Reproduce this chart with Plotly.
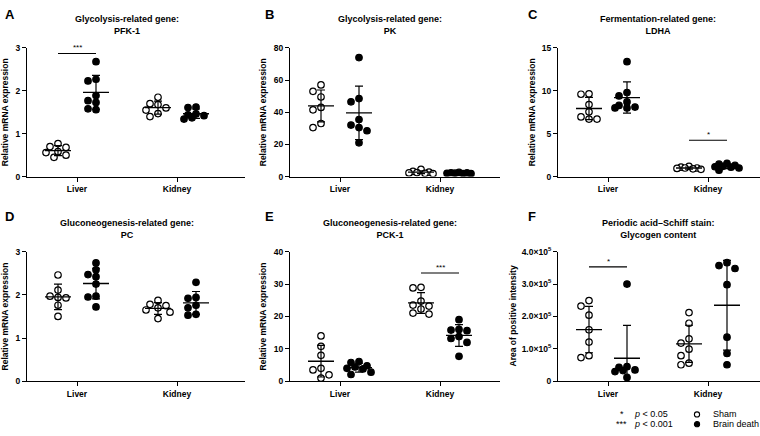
import numpy as np
import plotly.graph_objects as go

categories = ['Liver', 'Kidney']

# values, groups: Liver Sham, Liver BD, Kidney Sham, Kidney BD
pfk1_liver_sham = [0.77, 0.70, 0.68, 0.58, 0.56, 0.50, 0.45]
pfk1_liver_bd = [2.68, 2.27, 2.23, 1.89, 1.77, 1.73, 1.58, 1.56]
pfk1_kidney_sham = [1.85, 1.70, 1.68, 1.60, 1.55, 1.47, 1.40]
pfk1_kidney_bd = [1.62, 1.61, 1.46, 1.44, 1.42, 1.37, 1.34]

pk_liver_sham = [57.0, 53.0, 49.5, 43.0, 41.5, 33.0, 30.5]
pk_liver_bd = [74.0, 48.5, 46.5, 35.5, 32.0, 30.5, 28.5, 21.0]
pk_kidney_sham = [4.5, 3.2, 2.8, 2.5, 2.3, 2.0, 1.8]
pk_kidney_bd = [2.6, 2.4, 2.3, 2.1, 2.0, 1.9, 1.8]

ldha_liver_sham = [9.65, 9.6, 8.4, 7.55, 6.95, 6.7, 6.7]
ldha_liver_bd = [13.4, 9.8, 9.4, 8.7, 8.3, 8.1, 8.0, 8.0]
ldha_kidney_sham = [1.2, 1.1, 1.0, 1.0, 0.95, 0.9, 0.85]
ldha_kidney_bd = [1.55, 1.45, 1.3, 1.2, 1.15, 1.1, 1.0, 0.75]

pc_liver_sham = [2.46, 2.11, 1.97, 1.94, 1.93, 1.76, 1.50]
pc_liver_bd = [2.74, 2.58, 2.47, 2.42, 2.25, 1.97, 1.95, 1.72]
pc_kidney_sham = [1.87, 1.78, 1.75, 1.70, 1.65, 1.60, 1.45]
pc_kidney_bd = [2.29, 1.94, 1.92, 1.76, 1.70, 1.55, 1.53]

pck1_liver_sham = [14.0, 10.8, 8.0, 4.0, 3.5, 2.0, 1.0]
pck1_liver_bd = [6.1, 5.8, 4.8, 4.4, 4.0, 3.8, 2.8, 2.1]
pck1_kidney_sham = [29.0, 28.8, 24.75, 23.5, 23.2, 22.3, 21.05, 20.75]
pck1_kidney_bd = [19.0, 16.0, 15.8, 15.6, 13.8, 13.2, 12.0, 7.7]

pas_liver_sham = [2.49e5, 2.32e5, 2.04e5, 1.59e5, 1.21e5, 0.79e5, 0.73e5]
pas_liver_bd = [3.0e5, 0.45e5, 0.43e5, 0.35e5, 0.33e5, 0.30e5, 0.12e5]
pas_kidney_sham = [2.12e5, 1.79e5, 1.31e5, 1.18e5, 0.99e5, 0.79e5, 0.56e5, 0.51e5]
pas_kidney_bd = [3.66e5, 3.57e5, 3.48e5, 2.98e5, 1.36e5, 0.86e5, 0.51e5]

# significance brackets: (category index, height, label)
pfk1_sig = [(0, 2.87, '***')]
ldha_sig = [(1, 4.23, '*')]
pck1_sig = [(1, 33.4, '***')]
pas_sig = [(0, 3.53e5, '*')]

pas_ticks = [0, 1e5, 2e5, 3e5, 4e5]
pas_ticktext = ['0', '1.0×10<sup>5</sup>', '2.0×10<sup>5</sup>', '3.0×10<sup>5</sup>', '4.0×10<sup>5</sup>']

panels = [
    dict(letter='A', t1='Glycolysis-related gene:', t2='PFK-1', ytitle='Relative mRNA expression',
         ymax=3, dtick=1, groups=[pfk1_liver_sham, pfk1_liver_bd, pfk1_kidney_sham, pfk1_kidney_bd],
         sig=pfk1_sig),
    dict(letter='B', t1='Glycolysis-related gene:', t2='PK', ytitle='Relative mRNA expression',
         ymax=80, dtick=20, groups=[pk_liver_sham, pk_liver_bd, pk_kidney_sham, pk_kidney_bd], sig=[]),
    dict(letter='C', t1='Fermentation-related gene:', t2='LDHA', ytitle='Relative mRNA expression',
         ymax=15, dtick=5, groups=[ldha_liver_sham, ldha_liver_bd, ldha_kidney_sham, ldha_kidney_bd],
         sig=ldha_sig),
    dict(letter='D', t1='Gluconeogenesis-related gene:', t2='PC', ytitle='Relative mRNA expression',
         ymax=3, dtick=1, groups=[pc_liver_sham, pc_liver_bd, pc_kidney_sham, pc_kidney_bd], sig=[]),
    dict(letter='E', t1='Gluconeogenesis-related gene:', t2='PCK-1', ytitle='Relative mRNA expression',
         ymax=40, dtick=10, groups=[pck1_liver_sham, pck1_liver_bd, pck1_kidney_sham, pck1_kidney_bd],
         sig=pck1_sig),
    dict(letter='F', t1='Periodic acid–Schiff stain:', t2='Glycogen content', ytitle='Area of positive intensity',
         ymax=4e5, dtick=1e5, groups=[pas_liver_sham, pas_liver_bd, pas_kidney_sham, pas_kidney_bd],
         sig=pas_sig, ticks=pas_ticks, ticktext=pas_ticktext),
]

W, H = 760, 436
FONT = 'Liberation Sans, Arial, sans-serif'
col_px = [(27, 245), (290, 500), (558, 760)]
row_px = [(43, 175), (252, 385)]
letter_x = [3, 263, 526]
letter_y = [9, 216]
ytitle_gap = [[22, 27, 26], [22, 27, 45]]
PX_PER_CAT = 100.0
GROUP_OFF = 0.19


def swarm(vals, ppu, step=8.0, diam=7.0):
    # simple beeswarm: place from the top down, nearest free column wins,
    # crowded rows overlap instead of spreading out wider
    order = sorted(range(len(vals)), key=lambda i: -vals[i])
    cands = [0, -1, 1, -0.5, 0.5, -1.5, 1.5]
    placed, offs = [], [0.0] * len(vals)
    for i in order:
        y = vals[i] * ppu
        best, best_d = 0, -1
        for k in cands:
            x = k * step
            d = min([np.hypot(x - px, y - py) for px, py in placed] or [99])
            if d >= diam:
                best = k
                break
            if d > best_d:
                best, best_d = k, d
        placed.append((best * step, y))
        offs[i] = best * step / PX_PER_CAT
    return offs


fig = go.Figure()
annotations, shapes = [], []

for n, p in enumerate(panels):
    r, c = divmod(n, 3)
    ax = '' if n == 0 else str(n + 1)
    xa, ya = 'x' + ax, 'y' + ax
    x0, x1 = col_px[c]
    top, bot = row_px[r]
    ppu = (bot - top) / p['ymax']

    for g, vals in enumerate(p['groups']):
        cat = g // 2
        sham = g % 2 == 0
        cx = cat + (-GROUP_OFF if sham else GROUP_OFF)
        offs = swarm(vals, ppu)
        fig.add_trace(go.Scatter(
            x=[cx + o for o in offs], y=vals, mode='markers', xaxis=xa, yaxis=ya,
            marker=dict(size=6.5, color='white' if sham else 'black',
                        line=dict(color='black', width=1.2)),
            showlegend=False, hoverinfo='y'))
        m, sd = float(np.mean(vals)), float(np.std(vals, ddof=1))
        fig.add_trace(go.Scatter(
            x=[cx - 0.13, cx + 0.13], y=[m, m], mode='lines', xaxis=xa, yaxis=ya,
            line=dict(color='black', width=1.3), showlegend=False, hoverinfo='skip'))
        fig.add_trace(go.Scatter(
            x=[cx], y=[m], mode='markers', xaxis=xa, yaxis=ya, marker=dict(size=0.1, color='black'),
            error_y=dict(type='data', array=[sd], width=4, thickness=1.2, color='black'),
            showlegend=False, hoverinfo='skip'))

    for cat, h, label in p['sig']:
        fig.add_trace(go.Scatter(
            x=[cat - GROUP_OFF, cat + GROUP_OFF], y=[h, h], mode='lines', xaxis=xa, yaxis=ya,
            line=dict(color='black', width=1.1), showlegend=False, hoverinfo='skip'))
        annotations.append(dict(x=cat, y=h, xref=xa, yref=ya, text=label, showarrow=False,
                                yanchor='bottom', yshift=-1, font=dict(family=FONT, size=8, color='black')))

    xdom = [x0 / W, x1 / W]
    ydom = [1 - bot / H, 1 - top / H]
    tickfont = dict(family=FONT, size=8.5, color='black', weight='bold')
    fig.layout['xaxis' + ax] = dict(
        domain=xdom, range=[-0.5, -0.5 + (x1 - x0) / PX_PER_CAT], anchor=ya,
        tickvals=[0, 1], ticktext=categories, ticks='outside', ticklen=4, tickwidth=1.2,
        tickcolor='black', showline=True, linecolor='black', linewidth=1.2,
        showgrid=False, zeroline=False, tickfont=tickfont, fixedrange=True)
    yax = dict(
        domain=ydom, range=[0, p['ymax']], anchor=xa, ticks='outside', ticklen=4, tickwidth=1.2,
        tickcolor='black', showline=True, linecolor='black', linewidth=1.2,
        showgrid=False, zeroline=False, tickfont=tickfont, fixedrange=True)
    if 'ticks' in p:
        yax.update(tickvals=p['ticks'], ticktext=p['ticktext'])
    else:
        yax.update(tick0=0, dtick=p['dtick'])
    fig.layout['yaxis' + ax] = yax

    annotations.append(dict(x=0.5, y=1, xref=xa, yref=ya + ' domain',
                            text=p['t1'] + '<br>' + p['t2'], showarrow=False,
                            yanchor='middle', yshift=23,
                            font=dict(family=FONT, size=9, color='black', weight='bold')))
    annotations.append(dict(x=0, y=0.5, xref=xa + ' domain', yref=ya + ' domain', text=p['ytitle'],
                            showarrow=False, textangle=-90, xanchor='center', yanchor='middle',
                            xshift=-ytitle_gap[r][c],
                            font=dict(family=FONT, size=8.5, color='black', weight='bold')))
    annotations.append(dict(x=letter_x[c] / W, y=1 - letter_y[r] / H, xref='paper', yref='paper',
                            text=p['letter'], showarrow=False, xanchor='left', yanchor='middle',
                            font=dict(family=FONT, size=13, color='black', weight='bold')))

# legend drawn as annotations + circle shapes
lfont = dict(family=FONT, size=9, color='black')
for txt, xp, yp, anc in [('*', 622, 419, 'center'), ('<i>p</i> &lt; 0.05', 632, 419, 'left'),
                         ('***', 621, 429, 'center'), ('<i>p</i> &lt; 0.001', 632, 429, 'left'),
                         ('Sham', 711, 419, 'left'), ('Brain death', 711, 429, 'left')]:
    annotations.append(dict(x=xp / W, y=1 - yp / H, xref='paper', yref='paper', text=txt, showarrow=False,
                            xanchor=anc, yanchor='middle', font=lfont))
for yp, fill in [(419, 'white'), (429, 'black')]:
    shapes.append(dict(type='circle', xref='paper', yref='paper', xsizemode='pixel', ysizemode='pixel',
                       xanchor=697 / W, yanchor=1 - yp / H, x0=-2.6, x1=2.6, y0=-2.6, y1=2.6,
                       fillcolor=fill, line=dict(color='black', width=1.1)))

fig.update_layout(
    width=W, height=H, margin=dict(l=0, r=0, t=0, b=0),
    paper_bgcolor='white', plot_bgcolor='white',
    annotations=annotations, shapes=shapes, showlegend=False,
    font=dict(family=FONT, color='black'),
)

# drop the browser's default body margin so the figure sits at the window origin
fig.write_html("out.html", config={'displayModeBar': False},
               post_script="document.body.style.margin='0';")
